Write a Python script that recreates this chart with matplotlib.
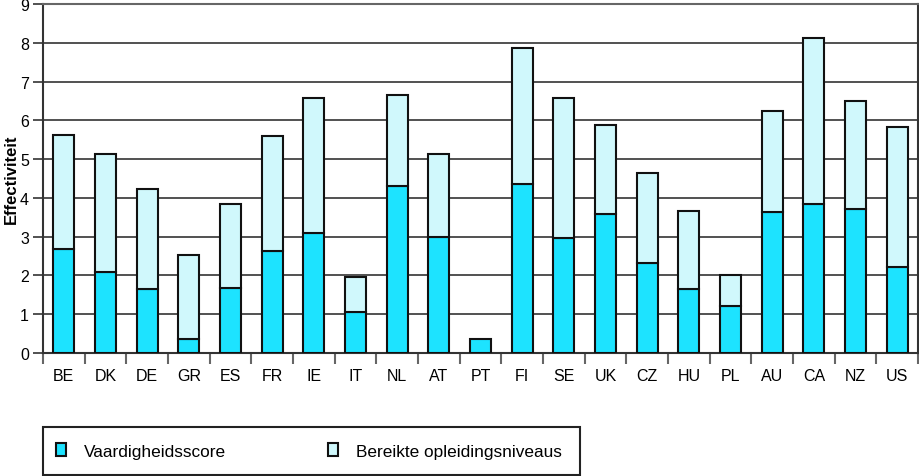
import matplotlib
matplotlib.use("Agg")
import matplotlib.pyplot as plt
from matplotlib.patches import Rectangle
import numpy as np

countries = ["BE", "DK", "DE", "GR", "ES", "FR", "IE", "IT", "NL", "AT", "PT",
             "FI", "SE", "UK", "CZ", "HU", "PL", "AU", "CA", "NZ", "US"]
vaardigheid = [2.67, 2.08, 1.65, 0.35, 1.68, 2.64, 3.09, 1.07, 4.31, 2.98, 0.35,
               4.35, 2.97, 3.59, 2.31, 1.65, 1.20, 3.63, 3.83, 3.71, 2.22]
opleiding = [2.94, 3.04, 2.58, 2.17, 2.15, 2.96, 3.48, 0.90, 2.34, 2.15, 0.0,
             3.52, 3.60, 2.30, 2.34, 2.02, 0.82, 2.60, 4.30, 2.80, 3.61]
yticks = list(range(0, 10))

plt.rcParams['font.family'] = ['Liberation Sans', 'DejaVu Sans']

W, H = 919, 477
fig = plt.figure(figsize=(W/100, H/100), dpi=100)
ax = fig.add_axes([43/W, 1-354/H, 875/W, 349/H])

x = np.arange(len(countries))
c1 = '#1de3ff'
c2 = '#d0f8fc'
ax.bar(x, vaardigheid, width=0.5, color=c1, edgecolor='#111111', linewidth=1.5,
       label='Vaardigheidsscore', zorder=3)
op = np.array(opleiding)
mask = op > 0
ax.bar(x[mask], op[mask], width=0.5, bottom=np.array(vaardigheid)[mask], color=c2,
       edgecolor='#111111', linewidth=1.5, label='Bereikte opleidingsniveaus', zorder=3)

ax.set_xlim(-0.5, len(countries) - 0.5)
ax.set_ylim(0, 9)
ax.set_yticks(yticks)
ax.set_yticklabels([str(v) for v in yticks], fontsize=11.5)
ax.set_xticks(x)
ax.set_xticklabels(countries, fontsize=11.5)
ax.set_xticks(np.arange(-0.5, len(countries), 1.0), minor=True)
ax.tick_params(axis='x', which='major', length=0, pad=11)
ax.tick_params(axis='x', which='minor', length=8, width=1.5, color='#666666')
ax.tick_params(axis='y', length=7, width=1.2, color='#333333', pad=3)

ax.grid(axis='y', color='#333333', linewidth=1.2, zorder=0)
ax.set_axisbelow(True)
for s in ax.spines.values():
    s.set_linewidth(1.5)
    s.set_color('#333333')
ax.spines['top'].set_color('#666666')

ax.set_ylabel('Effectiviteit', fontsize=12, fontweight='bold', labelpad=1)

# legend frame
fig.patches.append(Rectangle((43/W, 1-476/H), 537/W, 48/H, transform=fig.transFigure,
                             facecolor='white', edgecolor='#222222', linewidth=1.5))

fs = 12.4
fs_px = fs * 100 / 72

def make_legend(colsp):
    return fig.legend(loc='center left', bbox_to_anchor=(56/W, 1-452/H), ncol=2,
                      frameon=False, fontsize=fs, handlelength=0.6, handleheight=0.8,
                      handletextpad=1.0, borderpad=0, borderaxespad=0,
                      columnspacing=colsp)

leg = make_legend(5.0)
fig.canvas.draw()
r = fig.canvas.get_renderer()
t0 = leg.get_texts()[0].get_window_extent(r)
leg.remove()
colsp = (328 - t0.x1) / fs_px
leg = make_legend(colsp)

fig.savefig('out.png', dpi=100)
